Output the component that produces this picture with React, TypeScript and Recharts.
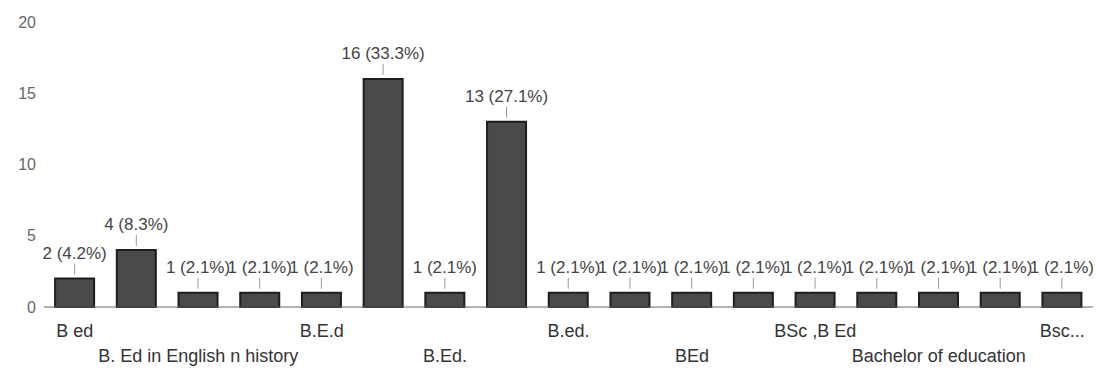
import { Bar, BarChart, LabelList, XAxis, YAxis } from "recharts";

const categories = [
  "B ed",
  "B. Ed",
  "B. Ed in English n history",
  "B.A, B.Ed",
  "B.E.d",
  "B.Ed",
  "B.Ed.",
  "B.ed",
  "B.ed.",
  "B.sc B.ed",
  "BEd",
  "BSc B.Ed",
  "BSc ,B Ed",
  "BSc, B.Ed",
  "Bachelor of education",
  "Bachelor of Education",
  "Bsc...",
];
const counts = [2, 4, 1, 1, 1, 16, 1, 13, 1, 1, 1, 1, 1, 1, 1, 1, 1];
const yTicks = [0, 5, 10, 15, 20];

const total = counts.reduce((a, b) => a + b, 0);
const data = categories.map((name, i) => ({ name, count: counts[i] }));

const font = "'Liberation Sans', Arial, sans-serif";

function ValueLabel(props: any) {
  const { x, y, width, value } = props;
  const cx = x + width / 2;
  const pct = ((value / total) * 100).toFixed(1);
  return (
    <g>
      <text x={cx} y={y - 20} textAnchor="middle" fontSize={17} fontFamily={font} fill="#444">
        {`${value} (${pct}%)`}
      </text>
      <line x1={cx} x2={cx} y1={y - 15} y2={y - 4} stroke="#999" strokeWidth={1} />
    </g>
  );
}

function CategoryTick(props: any) {
  const { x, y, payload } = props;
  const idx = categories.indexOf(payload.value);
  const row = Math.floor(idx / 2) % 2;
  return (
    <text
      x={x}
      y={y + (row === 0 ? 22 : 47)}
      textAnchor="middle"
      fontSize={18}
      fontFamily={font}
      fill="#333"
    >
      {payload.value}
    </text>
  );
}

export default function App() {
  return (
    <div style={{ position: "absolute", left: 0, top: 0, background: "#fff" }}>
      <BarChart
        width={1096}
        height={389}
        data={data}
        margin={{ top: 22, right: 3, bottom: 52, left: 0 }}
        barCategoryGap="18%"
      >
        <XAxis
          dataKey="name"
          interval={1}
          tick={<CategoryTick />}
          tickLine={false}
          axisLine={{ stroke: "#666" }}
        />
        <YAxis
          width={44}
          domain={[0, 20]}
          ticks={yTicks}
          axisLine={false}
          tickLine={false}
          tick={{ fontSize: 16, fill: "#666", fontFamily: font }}
        />
        <Bar dataKey="count" fill="#4a4a4a" stroke="#1e1e1e" strokeWidth={2} isAnimationActive={false}>
          <LabelList dataKey="count" content={<ValueLabel />} />
        </Bar>
      </BarChart>
    </div>
  );
}
